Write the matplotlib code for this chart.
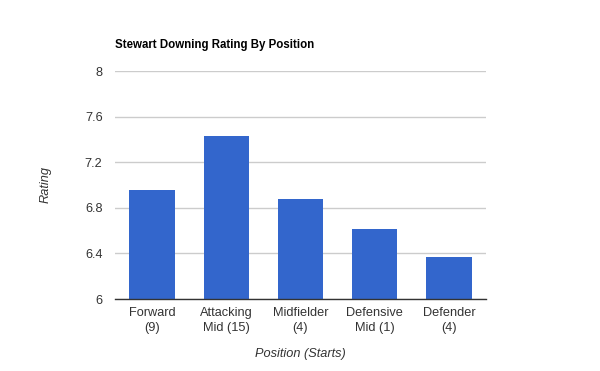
import matplotlib.pyplot as plt

# data
positions = ["Forward\n(9)", "Attacking\nMid (15)", "Midfielder\n(4)", "Defensive\nMid (1)", "Defender\n(4)"]
ratings = [6.96, 7.43, 6.88, 6.61, 6.37]
yticks = [6, 6.4, 6.8, 7.2, 7.6, 8]
ytick_labels = ["6", "6.4", "6.8", "7.2", "7.6", "8"]

plt.rcParams['font.family'] = ['Liberation Sans', 'DejaVu Sans']

fig = plt.figure(figsize=(6, 3.71), dpi=100)
ax = fig.add_axes([115/600, 1 - 299/371, 371/600, 228/371])

x = range(len(positions))
ax.bar(x, ratings, width=0.61, color="#3366cc", bottom=0, zorder=3)

ax.set_xlim(-0.5, len(positions) - 0.5)
ax.set_ylim(6, 8)
ax.set_yticks(yticks)
ax.set_yticklabels(ytick_labels)
ax.set_xticks(list(x))
ax.set_xticklabels(positions, linespacing=1.35)

ax.grid(axis="y", color="#cccccc", linewidth=1, zorder=0)
for s in ["top", "right", "left"]:
    ax.spines[s].set_visible(False)
ax.spines["bottom"].set_color("#333333")
ax.spines["bottom"].set_linewidth(1)
ax.spines["bottom"].set_zorder(4)

ax.tick_params(axis="both", length=0, labelsize=9.2, colors="#333333")
ax.tick_params(axis="y", pad=9)
ax.tick_params(axis="x", pad=6)

ax.set_ylabel("Rating", fontsize=9.2, style="italic", color="#333333", labelpad=24)
ax.set_xlabel("Position (Starts)", fontsize=9.2, style="italic", color="#333333", labelpad=10)

fig.text(115/600, 1 - 45/371, "Stewart Downing Rating By Position", fontsize=8.3,
         fontweight="bold", color="#000000", ha="left", va="center")

fig.savefig("out.png", dpi=100)
